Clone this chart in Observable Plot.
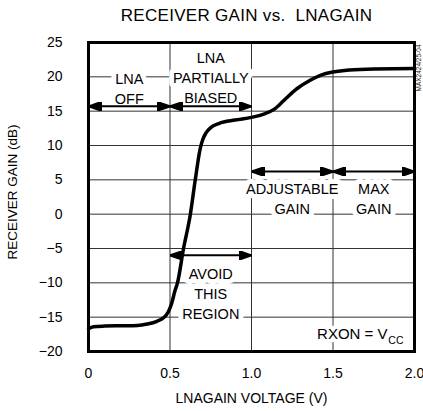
<!DOCTYPE html>
<html><head><meta charset="utf-8">
<script src="https://cdn.jsdelivr.net/npm/d3@7"></script>
<script src="https://cdn.jsdelivr.net/npm/@observablehq/plot@0.6"></script>
<style>
body{margin:0;background:#fff;}
#title{height:32px;line-height:32px;font-family:'Liberation Sans',Arial,sans-serif;font-size:17px;letter-spacing:0.3px;text-align:center;padding-left:70px;width:353px;white-space:pre;color:#000;}
g[aria-label="region-labels"] text, g[aria-label="note"] text {letter-spacing:-1px;}
g[aria-label="x-label"] text {letter-spacing:-0.4px;}
g[aria-label="y-label"] text {letter-spacing:-0.5px;}
</style></head><body>
<div id="title"></div>
<div id="chart"></div>
<script>
const titleText = "RECEIVER GAIN vs.  LNAGAIN";
const xLabel = "LNAGAIN VOLTAGE (V)";
const yLabel = "RECEIVER GAIN (dB)";

// curve (V, dB)
const voltage = [0, 0.03, 0.1, 0.2, 0.3, 0.36, 0.42, 0.46, 0.49, 0.51, 0.53, 0.546, 0.583, 0.625, 0.655, 0.685, 0.70, 0.72, 0.75, 0.80, 0.90, 1.00, 1.08, 1.14, 1.20, 1.28, 1.36, 1.43, 1.50, 1.60, 1.75, 2.00];
const gain    = [-16.7, -16.4, -16.3, -16.25, -16.2, -16.0, -15.6, -15.1, -14.2, -13.0, -11.2, -10, -5, 0, 5, 9.5, 10.8, 11.8, 12.6, 13.2, 13.7, 14.1, 14.6, 15.3, 16.6, 18.3, 19.5, 20.3, 20.7, 21.0, 21.15, 21.2];

const xTicks = [0, 0.5, 1, 1.5, 2];
const xTickLabels = ["0", "0.5", "1.0", "1.5", "2.0"];
const yTicks = [-20, -15, -10, -5, 0, 5, 10, 15, 20, 25];

// annotated regions
const regionLabels = ["LNA\nOFF", "LNA\nPARTIALLY\nBIASED", "ADJUSTABLE\nGAIN", "MAX\nGAIN", "AVOID\nTHIS\nREGION"];
const regionStart = [0, 0.5, 1.0, 1.5, 0.5];
const regionEnd   = [0.5, 1.0, 1.5, 2.0, 1.0];
const arrowLevel  = [15.7, 15.7, 6.2, 6.2, -6.0];
const labelLevel  = [18.45, 20.0, 2.45, 2.45, -11.4];

const noteText = "RXON = V";
const noteSub = "CC";
const watermark = "MAX2424/25-04";

document.getElementById("title").textContent = titleText;

const mainFont = "'Liberation Sans', Arial, sans-serif";

function solidArrow(color) {
  const ns = "http://www.w3.org/2000/svg";
  const m = document.createElementNS(ns, "marker");
  m.setAttribute("viewBox", "-13 -4.5 13 9");
  m.setAttribute("markerWidth", 13);
  m.setAttribute("markerHeight", 9);
  m.setAttribute("markerUnits", "userSpaceOnUse");
  m.setAttribute("refX", 0);
  m.setAttribute("refY", 0);
  m.setAttribute("orient", "auto-start-reverse");
  const p = document.createElementNS(ns, "path");
  p.setAttribute("d", "M0,0L-13,-4.5L-13,4.5Z");
  p.setAttribute("fill", color === "currentColor" ? "black" : color);
  m.appendChild(p);
  return m;
}

const idx = regionLabels.map((_, i) => i);
const curveIdx = voltage.map((_, i) => i);

const chart = Plot.plot({
  width: 423,
  height: 379,
  marginTop: 10,
  marginBottom: 60,
  marginLeft: 88,
  marginRight: 9,
  style: {fontFamily: mainFont, fontSize: "14px", color: "black", background: "white"},
  x: {domain: [0, 2]},
  y: {domain: [-20, 25]},
  marks: [
    Plot.gridX(xTicks, {stroke: "#333", strokeOpacity: 1, strokeWidth: 1}),
    Plot.gridY(yTicks, {stroke: "#333", strokeOpacity: 1, strokeWidth: 1}),
    Plot.axisX(xTicks, {tickSize: 0, tickPadding: 17, tickFormat: d => xTickLabels[xTicks.indexOf(d)], label: null, fontSize: 14}),
    Plot.axisY(yTicks, {tickSize: 0, tickPadding: 26, label: null, fontSize: 14}),
    Plot.text([xLabel], {ariaLabel: "x-label", frameAnchor: "bottom", textAnchor: "middle", dy: 47, fontSize: 14, lineAnchor: "middle", text: d => d}),
    Plot.text([yLabel], {ariaLabel: "y-label", frameAnchor: "left", textAnchor: "middle", rotate: -90, dx: -76, dy: -5, fontSize: 13.5, lineAnchor: "middle", text: d => d}),
    Plot.text(idx, {
      ariaLabel: "region-labels",
      x: i => (regionStart[i] + regionEnd[i]) / 2,
      y: i => labelLevel[i],
      text: i => regionLabels[i],
      fontSize: 14.5, lineHeight: 1.38, lineAnchor: "middle",
      fill: "black", stroke: "white", strokeWidth: 10, strokeLinejoin: "round", paintOrder: "stroke"
    }),
    Plot.text([noteText], {ariaLabel: "note", frameAnchor: "bottom-right", dx: -27, dy: -17, textAnchor: "end", lineAnchor: "middle",
      fontSize: 15, fill: "black", stroke: "white", strokeWidth: 8, paintOrder: "stroke", text: d => d}),
    Plot.text([noteSub], {frameAnchor: "bottom-right", dx: -11, dy: -11, textAnchor: "end", lineAnchor: "middle",
      fontSize: 10.5, fill: "black", stroke: "white", strokeWidth: 6, paintOrder: "stroke", text: d => d}),
    Plot.text([watermark], {frameAnchor: "top-right", rotate: -90, dx: 4.5, dy: 2, textAnchor: "end", lineAnchor: "middle",
      fontSize: 6.5, fill: "#222", text: d => d}),
    Plot.line(curveIdx, {x: i => voltage[i], y: i => gain[i], curve: "monotone-x", stroke: "black", strokeWidth: 3.5}),
    Plot.link(idx, {
      x1: i => regionStart[i], x2: i => regionEnd[i],
      y1: i => arrowLevel[i], y2: i => arrowLevel[i],
      stroke: "black", strokeWidth: 2,
      markerStart: solidArrow, markerEnd: solidArrow
    }),
    Plot.frame({stroke: "black", strokeWidth: 3})
  ]
});
document.getElementById("chart").appendChild(chart);
</script>
</body></html>
